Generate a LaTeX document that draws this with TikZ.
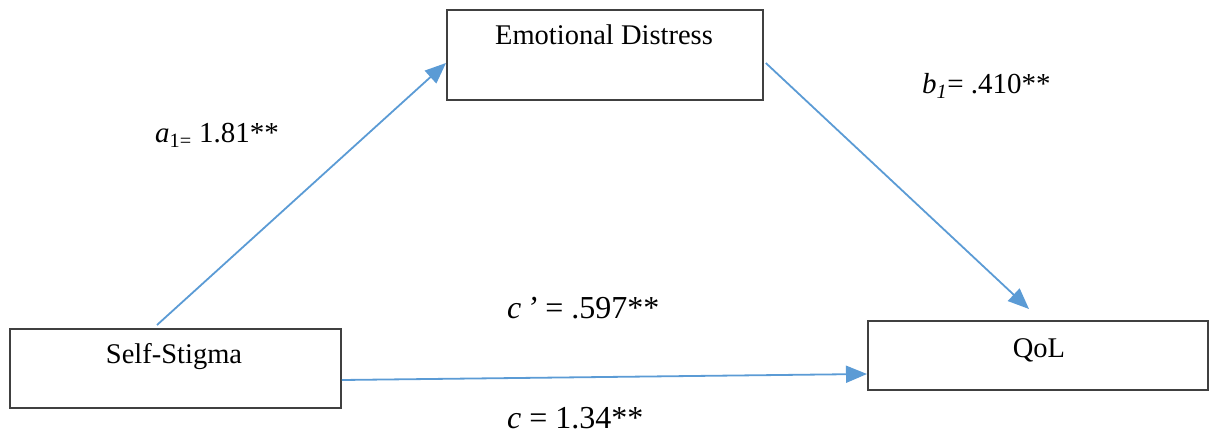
\documentclass[tikz,border=0pt]{standalone}
\usepackage{fontspec}
\setmainfont{Liberation Serif}
\usetikzlibrary{arrows.meta,calc}
\definecolor{lineblue}{HTML}{5B9BD5}
\definecolor{boxgray}{HTML}{404040}
\tikzset{
  varbox/.style={draw=boxgray, line width=1.8pt, rectangle, anchor=north west, inner sep=0pt},
  boxtext/.style={font=\fontsize{28.5}{31}\selectfont, anchor=base, inner sep=0pt},
  coef/.style={font=\fontsize{29}{32}\selectfont, anchor=base west, inner sep=0pt},
  coefc/.style={font=\fontsize{32}{35}\selectfont, anchor=base west, inner sep=0pt},
  path/.style={draw=lineblue, line width=1.8pt, -{Triangle[length=21pt,width=17pt]}}
}
\begin{document}
\begin{tikzpicture}[x=1pt,y=-1pt]
\useasboundingbox (0,0) rectangle (1209,435);
% boxes
\node[varbox, minimum width=316pt, minimum height=90pt] (ed) at (446,9) {};
\node[varbox, minimum width=331pt, minimum height=79pt] (ss) at (9,328) {};
\node[varbox, minimum width=340pt, minimum height=69pt] (q) at (867,320) {};
% box texts
\node[boxtext] (edt) at (604,45) {Emotional Distress};
\node[boxtext] (sst) at (174,363) {Self-Stigma};
\node[boxtext] (qt) at (1039,357) {QoL};
% paths
\draw[path] ([xshift=148pt,yshift=3pt]ss.north west) -- ([yshift=-54pt]ed.north west);
\draw[path] ([xshift=2pt,yshift=-54pt]ed.north east) -- ([xshift=162pt,yshift=11pt]q.north west);
\draw[path] ([yshift=-52pt]ss.north east) -- ([yshift=-54pt]q.north west);
% coefficients
\node[coef] (la) at (155,143) {\textit{a}\textsubscript{1=} 1.81**};
\node[coef] (lb) at (922,94) {\textit{b}\textsubscript{\textit{1}}= .410**};
\node[coefc] (lcp) at (507,319) {\textit{c\,’} = .597**};
\node[coefc] (lc) at (507,428) {\textit{c} = 1.34**};
\end{tikzpicture}
\end{document}
